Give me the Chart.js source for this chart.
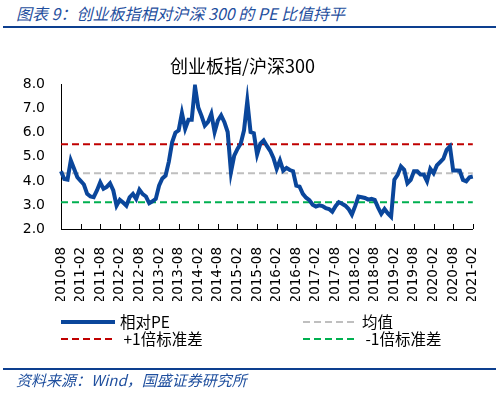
<!DOCTYPE html>
<html>
<head>
<meta charset="utf-8">
<script src="https://cdn.jsdelivr.net/npm/chart.js@4.4.0/dist/chart.umd.min.js"></script>
<style>
body { margin: 0; background: #fff; width: 499px; height: 393px; overflow: hidden; position: relative; font-family: "Noto Sans CJK SC", "DejaVu Sans", sans-serif; }
#cap { position: absolute; left: 16px; top: 1px; font-size: 16px; font-style: italic; color: #1f4f9e; white-space: nowrap; }
.rule { position: absolute; left: 3px; width: 493px; height: 2px; background: #0d3f8f; }
#src { position: absolute; left: 16px; top: 369px; font-size: 15px; font-style: italic; color: #1f4f9e; white-space: nowrap; }
#c { position: absolute; left: 0; top: 0; }
.lg { position: absolute; font-size: 15.5px; color: #000; display: flex; align-items: center; white-space: nowrap; line-height: 1; }
.lg svg { margin-right: 5px; }
</style>
</head>
<body>
<div id="cap">图表 9：创业板指相对沪深 300 的 PE 比值持平</div>
<div class="rule" style="top:26px"></div>
<canvas id="c" width="499" height="393"></canvas>
<div id="legend"></div>
<div class="rule" style="top:368px"></div>
<div id="src">资料来源：Wind，国盛证券研究所</div>
<script>
// 创业板指/沪深300 PE ratio, monthly from 2010-08 to 2021-02
const peRatio = [
  4.40, 4.08, 4.05, 4.85, 4.50, 4.15, 4.00, 3.85, 3.46, 3.35,
  3.32, 3.60, 3.94, 3.67, 3.75, 3.90, 3.60, 2.97, 3.21, 3.10,
  2.97, 3.32, 3.46, 3.25, 3.63, 3.45, 3.35, 3.07, 3.15, 3.25,
  3.80, 4.10, 4.22, 4.80, 5.60, 6.00, 6.10, 6.82, 6.17, 6.54,
  6.54, 7.93, 7.05, 6.70, 6.30, 6.45, 6.79, 6.03, 6.51, 6.72,
  6.44, 6.03, 4.36, 5.05, 5.33, 5.55, 6.10, 7.32, 6.03, 5.98,
  5.10, 5.55, 5.68, 5.45, 5.25, 4.95, 4.50, 4.85, 4.43, 4.54,
  4.45, 4.40, 3.80, 3.76, 3.46, 3.30, 3.20, 3.01, 2.93, 2.98,
  2.95, 2.87, 2.83, 2.72, 2.95, 3.11, 3.05, 2.97, 2.83, 2.60,
  2.95, 3.35, 3.32, 3.29, 3.22, 3.25, 3.21, 2.90, 2.63, 2.83,
  2.65, 2.51, 4.05, 4.25, 4.60, 4.46, 3.90, 4.04, 4.40, 4.40,
  4.26, 4.26, 3.98, 4.50, 4.32, 4.64, 4.78, 4.92, 5.29, 5.43,
  4.43, 4.43, 4.42, 4.04, 3.98, 4.15, 4.18
];
const meanVal = 4.32;
const plusSd = 5.52;
const minusSd = 3.11;
const yTicks = [2, 3, 4, 5, 6, 7, 8];

const seriesNames = ['相对PE', '均值', '+1倍标准差', '-1倍标准差'];
const seriesColors = ['#0a469b', '#bfbfbf', '#c00000', '#00b050'];

// month labels
const labels = [];
let yy = 2010, mm = 8;
for (let i = 0; i < peRatio.length; i++) {
  labels.push(yy + '-' + (mm < 10 ? '0' + mm : mm));
  mm++;
  if (mm > 12) { mm = 1; yy++; }
}
const first = labels[0];
const last = labels[labels.length - 1];

function flatLine(v) {
  return [{ x: first, y: v }, { x: last, y: v }];
}

// small tick marks drawn upward from the x axis
const innerTicks = {
  id: 'innerTicks',
  afterDraw(chart) {
    const xs = chart.scales.x;
    const ctx = chart.ctx;
    const bottom = chart.chartArea.bottom;
    ctx.save();
    ctx.strokeStyle = '#000';
    ctx.lineWidth = 1;
    for (let i = 0; i < labels.length; i += 6) {
      const px = Math.round(xs.getPixelForValue(i)) + 0.5;
      ctx.beginPath();
      ctx.moveTo(px, bottom);
      ctx.lineTo(px, bottom - 5);
      ctx.stroke();
    }
    ctx.restore();
  }
};

const ctx = document.getElementById('c');
const chart = new Chart(ctx, {
  type: 'line',
  data: {
    labels: labels,
    datasets: [
      { label: seriesNames[0], data: peRatio, borderColor: seriesColors[0], borderWidth: 4, pointRadius: 0, tension: 0, order: 0 },
      { label: seriesNames[1], data: flatLine(meanVal), borderColor: seriesColors[1], borderWidth: 2, borderDash: [7, 4], pointRadius: 0, order: 1 },
      { label: seriesNames[2], data: flatLine(plusSd), borderColor: seriesColors[2], borderWidth: 2, borderDash: [7, 4], pointRadius: 0, order: 1 },
      { label: seriesNames[3], data: flatLine(minusSd), borderColor: seriesColors[3], borderWidth: 2, borderDash: [7, 4], pointRadius: 0, order: 1 }
    ]
  },
  options: {
    responsive: false,
    animation: false,
    layout: { padding: { top: 55, right: 14, bottom: 92, left: 0 } },
    scales: {
      x: {
        offset: false,
        grid: { display: false },
        border: { display: true, color: '#000', width: 1 },
        ticks: {
          autoSkip: false,
          minRotation: 90,
          maxRotation: 90,
          padding: 10,
          color: '#000',
          font: { family: 'DejaVu Sans', size: 13.5 },
          callback: function (v, i) { return i % 6 === 0 ? labels[i] : null; }
        },
        afterFit: function (s) { s.height = 72; }
      },
      y: {
        min: 2,
        max: 8,
        grid: { display: false },
        border: { display: true, color: '#000', width: 1 },
        ticks: {
          stepSize: 1,
          padding: 8,
          color: '#000',
          font: { family: 'DejaVu Sans', size: 14 },
          callback: function (v) { return yTicks.includes(v) ? v.toFixed(1) : null; }
        },
        afterFit: function (s) { s.width = 61; }
      }
    },
    plugins: {
      legend: { display: false },
      tooltip: { enabled: false },
      title: {
        display: true,
        text: '创业板指/沪深300',
        color: '#000',
        font: { family: 'Noto Sans CJK SC', size: 18, weight: 'normal' },
        padding: { top: 0, bottom: 8 }
      }
    }
  },
  plugins: [innerTicks]
});

// legend, two columns
const legendPos = [[61, 314], [303, 314], [61, 331], [303, 331]];
const lg = document.getElementById('legend');
chart.data.datasets.forEach(function (ds, i) {
  const d = document.createElement('div');
  d.className = 'lg';
  d.style.left = legendPos[i][0] + 'px';
  d.style.top = legendPos[i][1] + 'px';
  const dash = ds.borderDash ? 'stroke-dasharray="7 4"' : '';
  d.innerHTML = '<svg width="54" height="6"><line x1="0" y1="3" x2="54" y2="3" stroke="' + ds.borderColor + '" stroke-width="' + ds.borderWidth + '" ' + dash + '/></svg>' +
    '<span>' + (i >= 2 ? '&nbsp;' : '') + ds.label + '</span>';
  lg.appendChild(d);
});
</script>
</body>
</html>
